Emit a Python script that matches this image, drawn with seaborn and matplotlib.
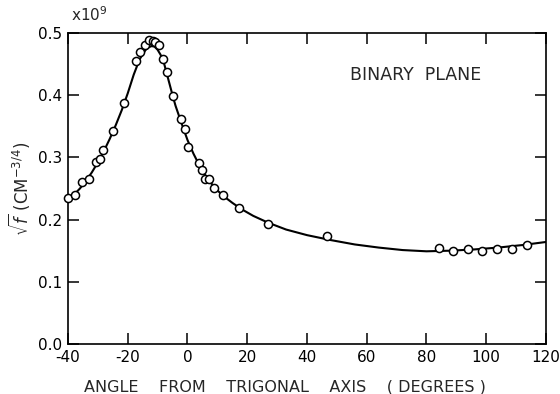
import matplotlib
matplotlib.use("Agg")
import matplotlib.pyplot as plt
import seaborn as sns
import pandas as pd

# measured points (angle in degrees, sqrt(f) in units of 1e9 cm^-3/4)
angle = [-40.0, -37.6, -35.2, -33.1, -30.7, -29.2, -28.4, -24.8, -21.2, -17.2,
         -15.9, -14.1, -12.9, -11.7, -10.9, -9.7, -8.1, -7.0, -5.0, -2.3,
         -0.8, 0.2, 3.9, 4.9, 5.9, 7.2, 8.9, 11.9, 17.2, 26.8,
         46.8, 84.2, 88.9, 93.9, 98.5, 103.7, 108.6, 113.8]
sqrt_f = [0.235, 0.240, 0.260, 0.266, 0.292, 0.297, 0.312, 0.342, 0.387, 0.455,
          0.469, 0.480, 0.488, 0.487, 0.485, 0.480, 0.459, 0.438, 0.398, 0.361,
          0.345, 0.316, 0.291, 0.280, 0.265, 0.265, 0.251, 0.239, 0.218, 0.193,
          0.174, 0.155, 0.150, 0.152, 0.150, 0.153, 0.152, 0.159]

# fitted curve
curve_angle = [-40, -38, -36, -34, -32, -30, -28, -26, -24, -22, -20, -18, -16,
               -14, -13, -12, -11, -10, -9, -8, -6, -5, -4, -2, 0, 2, 4, 6, 8,
               10, 12, 15, 18, 22, 27, 33, 40, 48, 56, 64, 72, 80, 88, 96, 104,
               112, 120]
curve_val = [0.232, 0.240, 0.250, 0.262, 0.276, 0.292, 0.310, 0.330, 0.352,
             0.376, 0.403, 0.433, 0.458, 0.473, 0.477, 0.479, 0.478, 0.473,
             0.465, 0.454, 0.418, 0.400, 0.383, 0.355, 0.328, 0.306, 0.287,
             0.271, 0.258, 0.247, 0.238, 0.227, 0.217, 0.206, 0.195, 0.184,
             0.175, 0.167, 0.160, 0.155, 0.151, 0.149, 0.150, 0.152, 0.155,
             0.159, 0.164]

x_ticks = [-40, -20, 0, 20, 40, 60, 80, 100, 120]
y_ticks = [0.0, 0.1, 0.2, 0.3, 0.4, 0.5]
y_tick_labels = ["0.0", "0.1", "0.2", "0.3", "0.4", "0.5"]

sns.set_style("ticks")
plt.rcParams["font.family"] = ["DejaVu Sans"]

fig = plt.figure(figsize=(5.6, 3.94), dpi=100)
ax = fig.add_axes([0.1214, 0.127, 0.8536, 0.7892])

pts = pd.DataFrame({"angle": angle, "val": sqrt_f})
crv = pd.DataFrame({"angle": curve_angle, "val": curve_val})

sns.lineplot(data=crv, x="angle", y="val", ax=ax, color="black", lw=1.5,
             sort=False, estimator=None, zorder=2)
sns.scatterplot(data=pts, x="angle", y="val", ax=ax, marker="o", s=34,
                facecolor="white", edgecolor="black", linewidth=1.1, zorder=3,
                clip_on=False)

ax.set_xlim(-40, 120)
ax.set_ylim(0, 0.5)
ax.set_xticks(x_ticks)
ax.set_xticklabels([str(t) for t in x_ticks])
ax.set_yticks(y_ticks)
ax.set_yticklabels(y_tick_labels)
ax.tick_params(direction="in", length=8, width=1.1, top=True, right=True,
               labelsize=11, pad=4, colors="black")
for s in ax.spines.values():
    s.set_linewidth(1.2)
    s.set_color("black")

ax.set_xlabel("ANGLE    FROM    TRIGONAL    AXIS    ( DEGREES )",
              fontsize=11.5)
ax.xaxis.set_label_coords(0.454, -0.115)
ax.set_ylabel(r"$\sqrt{f}$ (CM$^{-3/4}$)", fontsize=12)
ax.yaxis.set_label_coords(-0.075, 0.5)
ax.text(-39, 0.515, r"x10$^9$", fontsize=11, ha="left", va="bottom")
ax.text(0.864, 0.865, "BINARY  PLANE", transform=ax.transAxes, fontsize=12.5,
        ha="right", va="center")

fig.savefig("out.png", dpi=100)
